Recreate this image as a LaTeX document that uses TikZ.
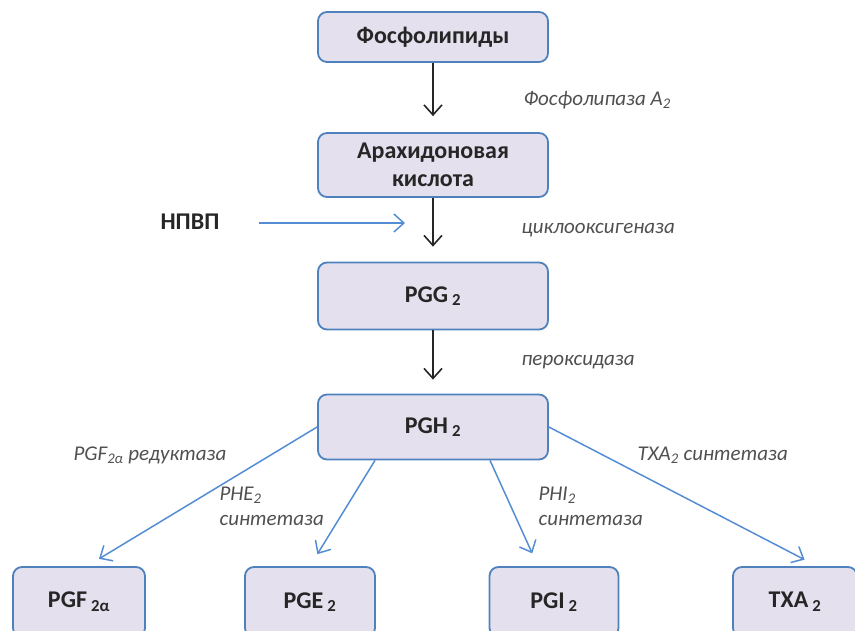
\documentclass[tikz,border=0pt]{standalone}
\usepackage{fontspec}
\setmainfont{Carlito}
\usetikzlibrary{arrows.meta}
\definecolor{boxfill}{RGB}{228,224,238}
\definecolor{boxline}{RGB}{79,129,189}
\definecolor{bluearr}{RGB}{84,141,212}
\definecolor{enzgray}{RGB}{80,80,80}
\tikzset{
  box/.style={draw=boxline, fill=boxfill, line width=1.8pt, rounded corners=9pt,
    minimum width=230, minimum height=50, align=center,
    font=\fontsize{24}{28}\selectfont\bfseries, text=black!85},
  enz/.style={font=\fontsize{21}{25}\selectfont\itshape, text=enzgray, anchor=west, align=left},
  path/.style={->, line width=1.6pt, black!85},
  inhib/.style={->, line width=1.5pt, bluearr},
}
\begin{document}
\begin{tikzpicture}[x=1pt, y=-1pt, >={Straight Barb[length=10pt,width=18pt]}]
\useasboundingbox (0,0) rectangle (855,630);
\clip (0,0) rectangle (855,630);
% main chain
\node[box] (phos) at (433,37) {Фосфолипиды};
\node[box, minimum height=64] (arach) at (433,165) {Арахидоновая\\кислота};
\node[box, minimum height=67] (pgg) at (433,296) {PGG\,\textsubscript{2}};
\node[box, minimum height=65] (pgh) at (433,427) {PGH\,\textsubscript{2}};
% products
\node[box, minimum width=132, minimum height=70] (pgf) at (79,602) {PGF\,\textsubscript{2α}};
\node[box, minimum width=130, minimum height=70] (pge) at (310,602) {PGE\,\textsubscript{2}};
\node[box, minimum width=129, minimum height=70] (pgi) at (554,602) {PGI\,\textsubscript{2}};
\node[box, minimum width=124, minimum height=70] (txa) at (795,602) {TXA\,\textsubscript{2}};
\node[font=\fontsize{24}{28}\selectfont\bfseries, text=black!85] (nsaid) at (190,222) {НПВП};
\coordinate (cox) at (405,223);

\draw[path, shorten >=16pt] (phos) -- (arach);
\draw[path, shorten >=15pt] (arach) -- (pgg);
\draw[path, shorten >=14pt] (pgg) -- (pgh);
\draw[inhib, shorten <=36pt] (nsaid.east |- cox) -- (cox);

\draw[inhib, shorten >=14pt] (pgh.west) -- ([xshift=8]pgf.north);
\draw[inhib, shorten >=14pt] ([xshift=-58]pgh.south) -- (pge.north);
\draw[inhib, shorten >=14pt] ([xshift=57]pgh.south) -- ([xshift=-16]pgi.north);
\draw[inhib, shorten >=14pt] (pgh.east) -- ([xshift=22]txa.north);

% enzymes
\node[enz] (pla) at (520,100) {Фосфолипаза A\textsubscript{2}};
\node[enz] (coxname) at (518,230) {циклооксигеназа};
\node[enz] (perox) at (518,362) {пероксидаза};
\node[enz] (pgfred) at (70,455) {PGF\textsubscript{2α} редуктаза};
\node[enz] (pgesyn) at (216,506) {PHE\textsubscript{2}\\синтетаза};
\node[enz] (pgisyn) at (535,506) {PHI\textsubscript{2}\\синтетаза};
\node[enz] (txasyn) at (634,455) {TXA\textsubscript{2} синтетаза};
\end{tikzpicture}
\end{document}
